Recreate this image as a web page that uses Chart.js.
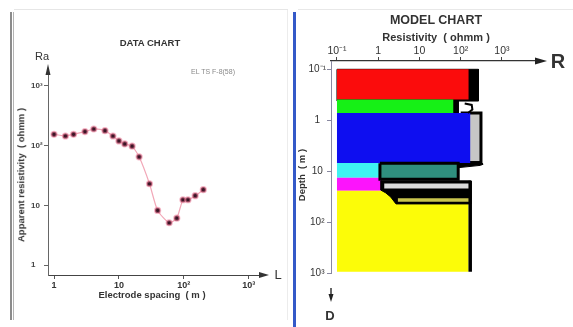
<!DOCTYPE html>
<html><head><meta charset="utf-8">
<script src="https://cdn.jsdelivr.net/npm/chart.js@4/dist/chart.umd.min.js"></script>
<style>
html,body{margin:0;padding:0;background:#fff;}
body{width:573px;height:327px;position:relative;overflow:hidden;font-family:"Liberation Sans",Arial,sans-serif;color:#333;}
.t{position:absolute;white-space:nowrap;transform:translate(-50%,-50%);line-height:1;}
.b{font-weight:bold;}
.ln{position:absolute;}
#c1{position:absolute;left:0;top:0;}
#c2{position:absolute;left:297px;top:0;}
</style></head><body>
<div class="ln" style="left:10px;top:12px;width:2px;height:308px;background:#8c8c8c"></div>
<div class="ln" style="left:13px;top:12px;width:1px;height:308px;background:#b4b4b4"></div>
<div class="ln" style="left:14px;top:9px;width:274px;height:1px;background:#e6e6e6"></div>
<div class="ln" style="left:287px;top:10px;width:1px;height:310px;background:#ececec"></div>
<div class="ln" style="left:293px;top:12px;width:3px;height:315px;background:#3459c8"></div>
<div class="ln" style="left:298px;top:9px;width:275px;height:1px;background:#e8e8e8"></div>
<canvas id="c1" width="290" height="327" style="width:290px;height:327px"></canvas>
<canvas id="c2" width="276" height="327" style="width:276px;height:327px"></canvas>
<div class="t b" style="left:150px;top:43px;font-size:9.5px;">DATA CHART</div>
<div class="t" style="left:213px;top:71px;font-size:7px;color:#8a8a8a;">EL TS F-8(58)</div>
<div class="t" style="left:42px;top:56px;font-size:11px;">Ra</div>
<div class="t b" style="left:21px;top:175px;font-size:9.5px;transform:translate(-50%,-50%) rotate(-90deg);">Apparent resistivity&nbsp; ( ohmm )</div>
<div class="t" style="left:278px;top:274px;font-size:13px;">L</div>
<div class="t b" style="left:152px;top:295px;font-size:9.5px;">Electrode spacing&nbsp; ( m )</div>
<div class="t b" style="left:436px;top:20px;font-size:12.5px;">MODEL CHART</div>
<div class="t b" style="left:436px;top:37px;font-size:11px;">Resistivity&nbsp; ( ohmm )</div>
<div class="t b" style="left:558px;top:61px;font-size:20px;">R</div>
<div class="t b" style="left:302px;top:175px;font-size:9.5px;transform:translate(-50%,-50%) rotate(-90deg);">Depth&nbsp; ( m )</div>
<div class="t b" style="left:330px;top:315px;font-size:13px;">D</div>
<script>
// ---- DATA CHART (sounding curve) ----
const spacing     = [1, 1.5, 2, 3, 4.1, 6.1, 8.1, 10, 12.3, 16, 20.5, 29.6, 39.5, 59.6, 78, 97, 116, 150, 200];
const apparentRes = [155, 145, 155, 172, 190, 178, 145, 120, 107, 98, 65, 23, 8.2, 5.1, 6.1, 12.4, 12.4, 14.5, 18.3];
const spacingTicks = [1, 10, 100, 1000];
const spacingTickLabels = ['1', '10', '10²', '10³'];
const resTicks = [1, 10, 100, 1000];
const resTickLabels = ['1', '10', '10²', '10³'];

// ---- MODEL CHART (layered earth) ----
const layerTop    = [0.1, 0.39, 0.72, 6.9, 13.5, 24.3];
const layerBottom = [0.39, 0.72, 6.9, 13.5, 24.3, 950];
const layerRes    = [155, 66, 170, 1.16, 1.23, 155];
const layerColors = ['#fb0c0c', '#16f016', '#0e0ef0', '#3ef2f2', '#fc14fc', '#fcfc08'];
const modelResTicks = [0.1, 1, 10, 100, 1000];
const modelResTickLabels = ['10⁻¹', '1', '10', '10²', '10³'];
const depthTicks = [0.1, 1, 10, 100, 1000];
const depthTickLabels = ['10⁻¹', '1', '10', '10²', '10³'];
const modelLeftRes = 0.1;
// equivalence outlines: [resistivity, depth] vertices
const eqRed      = [[0.1,0.1],[270,0.1],[270,0.42],[0.1,0.42]];
const eqGreen    = [[61,0.42],[87,0.42],[87,0.72],[61,0.72]];
const eqGreenArc = [[125,0.47],[185,0.5],[192,0.62],[150,0.72]];
const eqBlue     = [[100,0.72],[310,0.72],[310,6.9],[100,6.9]];
const eqJoin     = [[80,6.5],[300,6.5],[350,7.3],[300,7.7],[80,8.6]];
const eqCyan     = [[1.1,7.0],[87,7.0],[87,14.5],[1.1,14.5]];
const eqLower    = [[1.15,15.5],[175,15.5],[175,44],[2.7,44],[2.0,32],[1.5,26.5],[1.15,23.5]];
const eqLowerIn1 = [[1.4,17.5],[160,17.5],[160,22],[1.4,22]];
const eqLowerIn2 = [[3.0,34],[160,34],[160,40],[3.0,40]];
const eqRight    = [[170,15.5],[170,950]];

const FONT = '"Liberation Sans", Arial, sans-serif';

function fixedTicks(values){ return function(scale){ scale.ticks = values.map(v => ({value: v})); }; }
function labelFor(values, labels){ return function(v){ const i = values.indexOf(v); return i >= 0 ? labels[i] : ''; }; }

const arrowsLeft = {
  id: 'arrowsLeft',
  afterDraw(c){
    const {ctx, chartArea: a} = c;
    ctx.save();
    ctx.fillStyle = '#333';
    ctx.beginPath(); ctx.moveTo(a.right + 9, a.bottom); ctx.lineTo(a.right - 1, a.bottom - 3); ctx.lineTo(a.right - 1, a.bottom + 3); ctx.closePath(); ctx.fill();
    ctx.beginPath(); ctx.moveTo(a.left, a.top - 10); ctx.lineTo(a.left - 2.5, a.top + 1); ctx.lineTo(a.left + 2.5, a.top + 1); ctx.closePath(); ctx.fill();
    ctx.restore();
  }
};

new Chart(document.getElementById('c1'), {
  type: 'line',
  data: {
    datasets: [{
      data: spacing.map((x, i) => ({x: x, y: apparentRes[i]})),
      borderColor: '#f2a8b8',
      borderWidth: 1.2,
      pointRadius: 2.6,
      pointBackgroundColor: '#3a1526',
      pointBorderColor: 'rgba(236,120,150,0.55)',
      pointBorderWidth: 2,
      tension: 0.2,
      fill: false
    }]
  },
  options: {
    responsive: false, animation: false,
    layout: {padding: {top: 74, right: 30, left: 31, bottom: 0}},
    plugins: {legend: {display: false}, tooltip: {enabled: false}},
    scales: {
      x: {
        type: 'logarithmic', min: 0.808, max: 1494,
        afterBuildTicks: fixedTicks(spacingTicks),
        afterFit: s => { s.height = 52; },
        grid: {drawOnChartArea: false, drawTicks: true, tickLength: 4, color: '#555'},
        border: {color: '#444', width: 1},
        ticks: {callback: labelFor(spacingTicks, spacingTickLabels), color: '#333', padding: 1, maxRotation: 0, autoSkip: false, font: {family: FONT, size: 9, weight: 'bold'}}
      },
      y: {
        type: 'logarithmic', min: 0.68, max: 1586,
        afterBuildTicks: fixedTicks(resTicks),
        afterFit: s => { s.width = 17; },
        grid: {drawOnChartArea: false, drawTicks: true, tickLength: 4, color: '#666'},
        border: {color: '#666', width: 1},
        ticks: {callback: labelFor(resTicks, resTickLabels), color: '#444', crossAlign: 'far', padding: 2, autoSkip: false, font: {family: FONT, size: 8, weight: 'bold'}}
      }
    }
  },
  plugins: [arrowsLeft]
});

// ---- model chart datasets ----
function poly(pts, fillColor, borderColor, borderWidth, closed){
  const d = pts.map(p => ({x: p[0], y: p[1]}));
  if (closed !== false) d.push({x: pts[0][0], y: pts[0][1]});
  return {
    data: d,
    backgroundColor: fillColor || 'transparent',
    borderColor: borderColor || 'transparent',
    borderWidth: borderWidth || 0,
    fill: fillColor ? 'shape' : false,
    pointRadius: 0, tension: 0, borderJoinStyle: 'miter'
  };
}
const bottomToTop = [];
bottomToTop.push(poly(eqRed, '#000', '#000', 1));
bottomToTop.push(poly(eqBlue, '#c6c6c6', '#000', 3));
bottomToTop.push(poly(eqJoin, '#000', '#000', 1));
bottomToTop.push(poly(eqGreen, '#000', '#000', 1));
for (let i = 0; i < layerRes.length; i++) {
  bottomToTop.push(poly([[modelLeftRes, layerTop[i]], [layerRes[i], layerTop[i]], [layerRes[i], layerBottom[i]], [modelLeftRes, layerBottom[i]]], layerColors[i], null, 0));
}
bottomToTop.push(poly(eqCyan, '#2f8f7e', '#000', 3));
bottomToTop.push(poly(eqLower, '#000', '#000', 1));
bottomToTop.push(poly(eqLowerIn1, '#dcdcdc', null, 0));
bottomToTop.push(poly(eqLowerIn2, '#c9c54e', null, 0));
bottomToTop.push(poly(eqRight, null, '#000', 3.5, false));
bottomToTop.push(poly(eqGreenArc, null, '#000', 2, false));
const modelDatasets = bottomToTop.slice().reverse();

const arrowsRight = {
  id: 'arrowsRight',
  afterDraw(c){
    const {ctx, chartArea: a} = c;
    ctx.save();
    ctx.fillStyle = '#222';
    ctx.beginPath(); ctx.moveTo(a.right + 10, a.top); ctx.lineTo(a.right - 2, a.top - 3.5); ctx.lineTo(a.right - 2, a.top + 3.5); ctx.closePath(); ctx.fill();
    ctx.strokeStyle = '#333'; ctx.lineWidth = 1.5;
    ctx.beginPath(); ctx.moveTo(a.left, a.bottom + 15); ctx.lineTo(a.left, a.bottom + 23); ctx.stroke();
    ctx.beginPath(); ctx.moveTo(a.left, a.bottom + 29); ctx.lineTo(a.left - 2.5, a.bottom + 21); ctx.lineTo(a.left + 2.5, a.bottom + 21); ctx.closePath(); ctx.fill();
    ctx.restore();
  }
};

new Chart(document.getElementById('c2'), {
  type: 'line',
  data: {datasets: modelDatasets},
  options: {
    responsive: false, animation: false,
    layout: {padding: {top: 0, right: 36, left: 0, bottom: 54}},
    plugins: {legend: {display: false}, tooltip: {enabled: false}},
    scales: {
      x: {
        type: 'logarithmic', position: 'top', min: 0.0716, max: 7080,
        afterBuildTicks: fixedTicks(modelResTicks),
        afterFit: s => { s.height = 61; },
        grid: {drawOnChartArea: false, drawTicks: true, tickLength: 4, color: '#444'},
        border: {color: '#333', width: 1.2},
        ticks: {callback: labelFor(modelResTicks, modelResTickLabels), color: '#333', padding: 0, maxRotation: 0, autoSkip: false, font: {family: FONT, size: 10.5}}
      },
      y: {
        type: 'logarithmic', reverse: true, min: 0.0687, max: 1000,
        afterBuildTicks: fixedTicks(depthTicks),
        afterFit: s => { s.width = 34; },
        grid: {drawOnChartArea: false, drawTicks: true, tickLength: 4, color: '#8888a0'},
        border: {color: '#8888a0', width: 1},
        ticks: {callback: labelFor(depthTicks, depthTickLabels), color: '#333', crossAlign: 'center', padding: 1, autoSkip: false, font: {family: FONT, size: 10}}
      }
    }
  },
  plugins: [arrowsRight]
});
</script>
</body></html>
